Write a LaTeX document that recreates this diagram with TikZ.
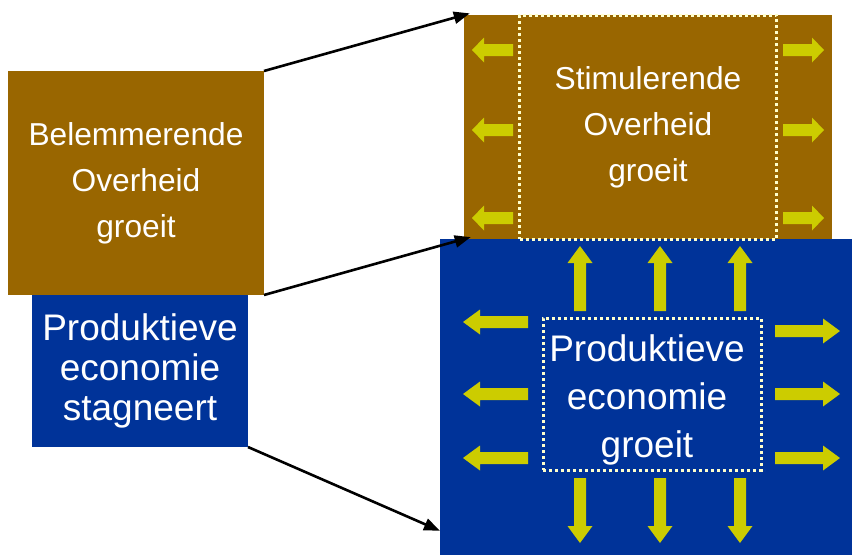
\documentclass[tikz,border=0pt]{standalone}
\usepackage{fontspec}
\setmainfont{Liberation Sans}
\usepackage{xcolor}
\usetikzlibrary{positioning,arrows.meta}

\definecolor{govbrown}{RGB}{153,102,0}
\definecolor{ecoblue}{RGB}{0,51,153}
\definecolor{pushyellow}{RGB}{204,204,0}
\definecolor{dotyellow}{RGB}{255,255,204}

\begin{document}
\begin{tikzpicture}[
  x=1pt, y=-1pt,
  >=Latex,
  box/.style={rectangle, inner sep=0pt, outer sep=0pt, align=center, text=white},
  ovhbox/.style={box, fill=govbrown, minimum width=256pt, minimum height=224pt,
    font=\fontsize{31.7pt}{46pt}\selectfont},
  ecobox/.style={box, fill=ecoblue},
  core/.style={box, draw=dotyellow, line width=3pt, dash pattern=on 3pt off 3pt},
  link/.style={-{Triangle[length=16pt,width=12pt]}, line width=2.6pt, draw=black},
  pics/push/.style 2 args={code={
    \fill[pushyellow] (0,-6) -- (#1-#2,-6) -- (#1-#2,-12.5) -- (#1,0)
      -- (#1-#2,12.5) -- (#1-#2,6) -- (0,6) -- cycle;
  }}
]
\useasboundingbox (0,0) rectangle (852,555);

% ------------------------------------------------------------
% Left: obstructing government, stagnating economy
% ------------------------------------------------------------
\node[ovhbox] (ovh1) at (136,183) {Belemmerende\\Overheid\\groeit};
\node[ecobox, below=0pt of ovh1, xshift=4pt, minimum width=216pt, minimum height=152pt,
  font=\fontsize{37pt}{40pt}\selectfont] (eco1) {Produktieve\\economie\\stagneert};

% ------------------------------------------------------------
% Right: stimulating government, growing economy
% ------------------------------------------------------------
\node[ovhbox, right=200pt of ovh1, yshift=56pt, minimum width=368pt] (ovh2) {};
\node[ecobox, below=0pt of ovh2, xshift=-2pt, minimum width=412pt, minimum height=316pt] (eco2) {};

% yellow push arrows
\foreach \y in {50,130,218} {
  \pic[rotate=180] at (513,\y) {push={41}{12}};
  \pic at (783,\y) {push={41}{12}};
}
\foreach \x in {580,660,740} {
  \pic[rotate=90] at (\x,311) {push={65}{17}};
  \pic[rotate=-90] at (\x,478) {push={65}{17}};
}
\foreach \y in {322,394,458} \pic[rotate=180] at (528,\y) {push={65}{17}};
\foreach \y in {331,394,458} \pic at (775,\y) {push={65}{17}};

% dotted cores
\node[core, minimum width=257pt, minimum height=224pt,
  font=\fontsize{31.7pt}{46pt}\selectfont] (ovhcore) at (ovh2) {Stimulerende\\Overheid\\groeit};
\node[core, minimum width=218pt, minimum height=152pt] (ecocore) at (652,394) {};
\node[box, font=\fontsize{37pt}{48pt}\selectfont] (ecotext) at (647,400) {Produktieve\\economie\\groeit};

% arrows from left to right
\draw[link, shorten >=-6pt] (ovh1.north east) -- (ovh2.north west);
\draw[link, shorten >=-7pt] (ovh1.south east) -- (ovh2.south west);
\draw[link] (eco1.south east) -- (eco2.213.8);

\end{tikzpicture}
\end{document}
